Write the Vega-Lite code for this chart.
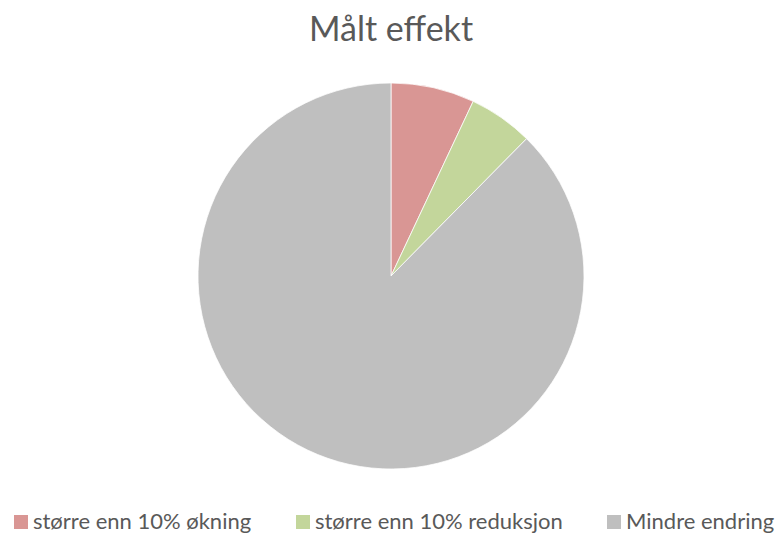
{
  "$schema": "https://vega.github.io/schema/vega-lite/v6.json",
  "autosize": "none",
  "width": 782,
  "height": 432,
  "padding": {"top": 60, "left": 0, "right": 0, "bottom": 42},
  "background": "white",
  "title": {
    "text": "Målt effekt",
    "font": "Lato",
    "fontSize": 34,
    "fontWeight": "normal",
    "color": "#595959",
    "anchor": "middle",
    "offset": 12
  },
  "data": {
    "values": [
      {"kategori": "større enn 10% økning", "andel": 7.0, "rekkefolge": 1},
      {"kategori": "større enn 10% reduksjon", "andel": 5.4, "rekkefolge": 2},
      {"kategori": "Mindre endring", "andel": 87.6, "rekkefolge": 3}
    ]
  },
  "mark": {"type": "arc", "outerRadius": 193, "stroke": "white", "strokeWidth": 0.75},
  "encoding": {
    "theta": {"field": "andel", "type": "quantitative", "stack": true},
    "order": {"field": "rekkefolge", "type": "quantitative"},
    "color": {
      "field": "kategori",
      "type": "nominal",
      "scale": {
        "domain": ["større enn 10% økning", "større enn 10% reduksjon", "Mindre endring"],
        "range": ["#D99694", "#C3D69B", "#BFBFBF"]
      },
      "legend": {
        "title": null,
        "orient": "none",
        "direction": "horizontal",
        "legendX": 10,
        "legendY": 451,
        "columns": 3,
        "columnPadding": 40,
        "padding": 0,
        "symbolType": "square",
        "symbolSize": 196,
        "symbolStrokeWidth": 0,
        "labelFont": "Lato",
        "labelFontSize": 22,
        "labelColor": "#595959",
        "labelOffset": 1,
        "labelLimit": 400
      }
    }
  },
  "config": {"view": {"stroke": null}}
}
